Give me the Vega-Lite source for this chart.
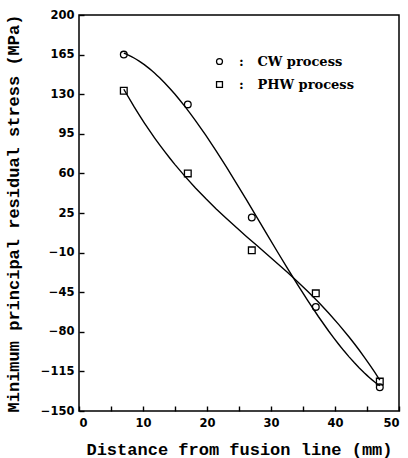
{
  "$schema": "https://vega.github.io/schema/vega-lite/v6.json",
  "width": 320,
  "height": 396,
  "autosize": {"type": "none"},
  "padding": {"left": 79, "top": 15, "right": 9, "bottom": 47},
  "background": "white",
  "data": {
    "values": [
      {"series": "CW process", "x": 7, "y": 165},
      {"series": "CW process", "x": 17, "y": 121},
      {"series": "CW process", "x": 27, "y": 21},
      {"series": "CW process", "x": 37, "y": -58},
      {"series": "CW process", "x": 47, "y": -129},
      {"series": "PHW process", "x": 7, "y": 133},
      {"series": "PHW process", "x": 17, "y": 60},
      {"series": "PHW process", "x": 27, "y": -8},
      {"series": "PHW process", "x": 37, "y": -46},
      {"series": "PHW process", "x": 47, "y": -124}
    ]
  },
  "config": {
    "view": {"stroke": "black", "strokeWidth": 1.5, "fill": null}
  },
  "layer": [
    {
      "mark": {"type": "point", "filled": false, "color": "black", "strokeWidth": 1.3, "size": 45, "opacity": 1},
      "encoding": {
        "x": {
          "field": "x",
          "type": "quantitative",
          "scale": {"domain": [0, 50], "nice": false},
          "axis": {
            "title": "Distance from fusion line (mm)",
            "values": [0, 5, 10, 15, 20, 25, 30, 35, 40, 45, 50],
            "tickCount": 50,
            "labelExpr": "datum.value % 10 == 0 ? datum.label : ''",
            "labelOverlap": false,
            "domain": false,
            "offset": -5,
            "ticks": true,
            "zindex": 2,
            "tickColor": "black",
            "tickOpacity": 1,
            "tickDash": [],
            "tickSize": 5,
            "tickWidth": 1.4,
            "grid": false,
            "labelPadding": 6,
            "titlePadding": 13,
            "labelFont": "DejaVu Sans",
            "labelFontWeight": "bold",
            "labelFontSize": 11.5,
            "labelColor": "black",
            "titleFont": "Liberation Mono",
            "titleFontWeight": "bold",
            "titleFontSize": 17,
            "titleColor": "black"
          }
        },
        "y": {
          "field": "y",
          "type": "quantitative",
          "scale": {"domain": [-150, 200], "nice": false},
          "axis": {
            "title": "Minimum principal residual stress (MPa)",
            "values": [-150, -115, -80, -45, -10, 25, 60, 95, 130, 165, 200],
            "tickCount": 50,
            "labelOverlap": false,
            "domain": false,
            "offset": -5,
            "ticks": true,
            "zindex": 2,
            "tickColor": "black",
            "tickOpacity": 1,
            "tickDash": [],
            "tickSize": 5,
            "tickWidth": 1.4,
            "grid": false,
            "labelPadding": 5,
            "titlePadding": 18,
            "labelFont": "DejaVu Sans",
            "labelFontWeight": "bold",
            "labelFontSize": 11.5,
            "labelColor": "black",
            "titleFont": "Liberation Mono",
            "titleFontWeight": "bold",
            "titleFontSize": 17,
            "titleColor": "black"
          }
        },
        "shape": {
          "field": "series",
          "type": "nominal",
          "scale": {"domain": ["CW process", "PHW process"], "range": ["circle", "square"]},
          "legend": {
            "title": null,
            "orient": "none",
            "legendX": 134,
            "legendY": 40,
            "labelExpr": "':\u00a0\u00a0 ' + datum.label",
            "labelFont": "DejaVu Serif",
            "labelFontWeight": "bold",
            "labelFontSize": 13,
            "labelColor": "black",
            "labelOffset": 13,
            "rowPadding": 9,
            "symbolSize": 35,
            "symbolStrokeColor": "black",
            "symbolFillColor": "transparent",
            "symbolStrokeWidth": 1.3
          }
        }
      }
    },
    {
      "transform": [
        {"regression": "y", "on": "x", "groupby": ["series"], "method": "poly", "order": 3, "extent": [7, 47]}
      ],
      "mark": {"type": "line", "color": "black", "strokeWidth": 1.4},
      "encoding": {
        "x": {"field": "x", "type": "quantitative"},
        "y": {"field": "y", "type": "quantitative"},
        "detail": {"field": "series"}
      }
    }
  ]
}
